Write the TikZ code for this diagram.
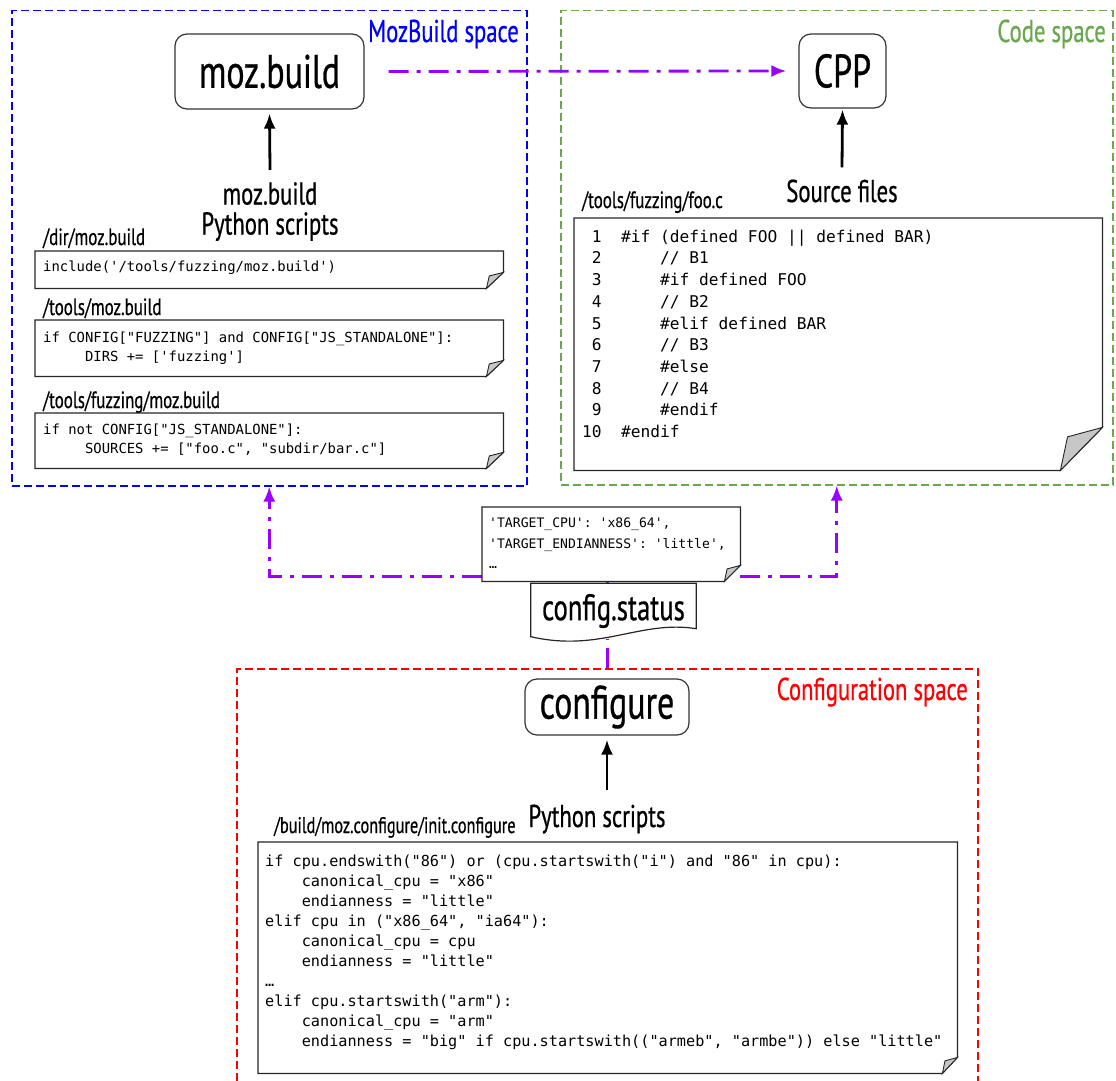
\documentclass[tikz,border=0pt]{standalone}
\usepackage{fontspec}
\setmonofont{DejaVu Sans Mono}
\newfontfamily\oswald{PT Sans}[FakeStretch=0.72,FakeBold=0.6]
\usepackage{tikz}
\usetikzlibrary{calc,positioning,arrows.meta}
\definecolor{mbblue}{RGB}{0,0,255}
\definecolor{codegreen}{RGB}{106,168,79}
\definecolor{cfgred}{RGB}{255,0,0}
\definecolor{flowviolet}{RGB}{153,0,255}
\tikzset{
  space/.style={dashed, dash pattern=on 8pt off 4pt, line width=1.5pt, anchor=north west, inner sep=0},
  spacename/.style={font=\oswald\fontsize{31.5}{31.5}\selectfont, anchor=base east, inner sep=0},
  tool/.style={draw=black!80, fill=white, rounded corners=12pt, line width=1.2pt, inner sep=0,
    font=\oswald\fontsize{47}{47}\selectfont},
  caption/.style={font=\oswald\fontsize{31.5}{30}\selectfont, align=center, inner sep=0},
  fname/.style={font=\oswald\fontsize{23.5}{23.5}\selectfont, anchor=base west, inner sep=0},
  notebox/.style={fill=white, inner sep=0, anchor=north west},
  noteline/.style={draw=black!85, line width=1.2pt},
  foldline/.style={draw=black!85, fill=black!22, line width=0.9pt},
  code/.style={align=left, anchor=north west, inner sep=0},
  flow/.style={flowviolet, line width=2.8pt, dash pattern=on 20pt off 8pt on 4pt off 8pt},
  flowtip/.style={-{Latex[length=15pt,width=12pt]}},
  feed/.style={-{Latex[length=15pt,width=12pt]}, line width=2.8pt},
}
\newcommand{\foldnote}[3]{%
  \draw[noteline] (#1.north west) -- (#1.north east) -- ([yshift=#3pt]#1.south east)
    -- ([xshift=-#2pt]#1.south east) -- (#1.south west) -- cycle;
  \draw[foldline] ([yshift=#3pt]#1.south east) -- ([xshift=-#2pt]#1.south east)
    -- ([xshift=-0.83*#2pt,yshift=0.78*#3pt]#1.south east) -- cycle;
}
\newcommand{\codeind}{\hphantom{0000}}

\begin{document}
\begin{tikzpicture}[x=1pt,y=-1pt]
\useasboundingbox (0,0) rectangle (1116,1081);

% the three spaces
\node[space, draw=mbblue, minimum width=515pt, minimum height=475pt] (mbspace) at (11,10) {};
\node[space, draw=codegreen, minimum width=552pt, minimum height=474pt] (codespace) at (560,10) {};
\node[space, draw=cfgred, minimum width=741pt, minimum height=430pt] (cfgspace) at (236,668) {};
\node[spacename, text=mbblue] (mbname) at (519,42) {MozBuild space};
\node[spacename, text=codegreen] (codename) at (1106,42) {Code space};
\node[spacename, text=cfgred] (cfgname) at (968,700) {Configuration space};

\node[tool, minimum width=189pt, minimum height=75pt] (mozbuild) at (269.5,71.5) {moz.build};
\node[tool, minimum width=87pt, minimum height=74pt] (cpp) at (842.5,71) {CPP};
\node[tool, minimum width=164pt, minimum height=56pt] (configure) at (607,707) {configure};

\node[notebox, minimum width=258pt, minimum height=74pt] (statusnote) at (482,507) {};

% flows from config.status
\draw[flow, flowtip] ([xshift=24pt]mozbuild.east) -- ([xshift=-12pt]cpp.west);
\draw[flow, flowtip] ([yshift=5pt]statusnote.south west) -| (mbspace.south);
\draw[flow, flowtip] ([yshift=5pt]statusnote.south east) -| (codespace.south);
\draw[flow] (cfgspace.north) -- (cfgspace.north |- statusnote.south);

\node[notebox, minimum width=258pt, minimum height=74pt] (statusnote) at (482,507) {};
\foldnote{statusnote}{16}{16}
\node[code, font=\ttfamily\fontsize{13.1}{20.5}\selectfont] (statuscode) at (489,518)
  {'TARGET\_CPU': 'x86\_64',\\'TARGET\_ENDIANNESS': 'little',\\…};

\node[fill=white, inner sep=0, minimum width=165pt, minimum height=55pt,
  font=\oswald\fontsize{37}{37}\selectfont] (cfgstatus) at (613.5,611) {config.status};
\draw[noteline] (cfgstatus.north west) -- (cfgstatus.north east) -- ([yshift=10pt]cfgstatus.south east)
  .. controls ([xshift=-56pt,yshift=19pt]cfgstatus.south east) and ([xshift=-96pt,yshift=-14pt]cfgstatus.south east)
  .. ([yshift=2pt]cfgstatus.south west) -- cycle;

% moz.build files
\node[caption, anchor=north] (mbcap) at (270,182) {moz.build\\Python scripts};
\draw[feed] ([yshift=12pt]mbcap.north) -- ([yshift=-4pt]mozbuild.south);

\node[fname] (dirname) at (43,245) {/dir/moz.build};
\node[notebox, minimum width=468pt, minimum height=37pt] (dirnote) at (35,251) {};
\foldnote{dirnote}{17}{16}
\node[code, font=\ttfamily\fontsize{13.9}{19}\selectfont] (dircode) at (43,260.5)
  {include('/tools/fuzzing/moz.build')};

\node[fname] (toolsname) at (43,315) {/tools/moz.build};
\node[notebox, minimum width=468pt, minimum height=56pt] (toolsnote) at (35,320) {};
\foldnote{toolsnote}{17}{16}
\node[code, font=\ttfamily\fontsize{13.9}{19}\selectfont] (toolscode) at (43,331.5)
  {if CONFIG["FUZZING"] and CONFIG["JS\_STANDALONE"]:\\
   \hphantom{00000}DIRS += ['fuzzing']};

\node[fname] (fuzzname) at (43,408) {/tools/fuzzing/moz.build};
\node[notebox, minimum width=468pt, minimum height=55pt] (fuzznote) at (35,413) {};
\foldnote{fuzznote}{17}{16}
\node[code, font=\ttfamily\fontsize{13.9}{19}\selectfont] (fuzzcode) at (43,423.5)
  {if not CONFIG["JS\_STANDALONE"]:\\
   \hphantom{00000}SOURCES += ["foo.c", "subdir/bar.c"]};

% source files
\node[caption, anchor=base] (srccap) at (842,202) {Source files};
\draw[feed] ([yshift=12pt]srccap.north) -- ([yshift=-1pt]cpp.south);

\node[fname] (fooname) at (582,208) {/tools/fuzzing/foo.c};
\node[notebox, minimum width=528pt, minimum height=252pt] (foonote) at (574,218) {};
\foldnote{foonote}{42}{43}
\node[code, font=\ttfamily\fontsize{16.2}{21.7}\selectfont] (foocode) at (582,229.7)
  {\hphantom{0}1\hphantom{00}\#if (defined FOO || defined BAR)\\
   \hphantom{0}2\hphantom{00}\codeind// B1\\
   \hphantom{0}3\hphantom{00}\codeind\#if defined FOO\\
   \hphantom{0}4\hphantom{00}\codeind// B2\\
   \hphantom{0}5\hphantom{00}\codeind\#elif defined BAR\\
   \hphantom{0}6\hphantom{00}\codeind// B3\\
   \hphantom{0}7\hphantom{00}\codeind\#else\\
   \hphantom{0}8\hphantom{00}\codeind// B4\\
   \hphantom{0}9\hphantom{00}\codeind\#endif\\
   10\hphantom{00}\#endif};

% configure scripts
\node[caption, anchor=base] (pycap) at (597,827) {Python scripts};
\draw[feed] (configure.south |- pycap.north) ++(0,-15) -- ([yshift=-4pt]configure.south);

\node[fname, font=\oswald\fontsize{22.6}{22.6}\selectfont] (initname) at (274,833) {/build/moz.configure/init.configure};
\node[notebox, minimum width=699pt, minimum height=231pt] (initnote) at (258,842) {};
\foldnote{initnote}{15}{16}
\node[code, font=\ttfamily\fontsize{15.2}{20}\selectfont] (initcode) at (265,854.5)
  {if cpu.endswith("86") or (cpu.startswith("i") and "86" in cpu):\\
   \codeind canonical\_cpu = "x86"\\
   \codeind endianness = "little"\\
   elif cpu in ("x86\_64", "ia64"):\\
   \codeind canonical\_cpu = cpu\\
   \codeind endianness = "little"\\
   …\\
   elif cpu.startswith("arm"):\\
   \codeind canonical\_cpu = "arm"\\
   \codeind endianness = "big" if cpu.startswith(("armeb", "armbe")) else "little"};
\end{tikzpicture}
\end{document}
